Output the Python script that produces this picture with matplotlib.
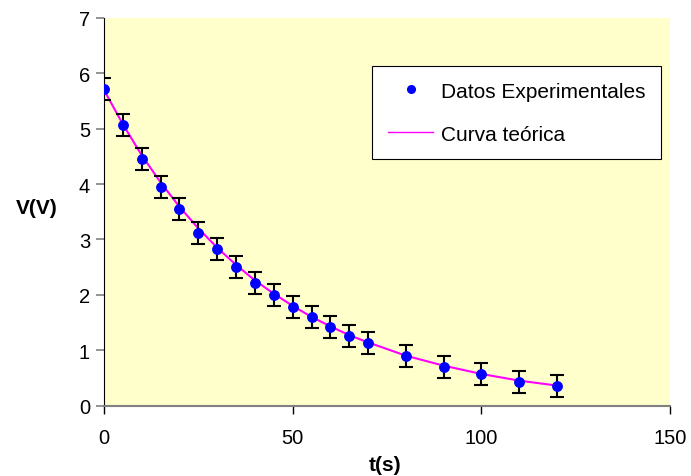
import numpy as np
import matplotlib
matplotlib.use("Agg")
import matplotlib.pyplot as plt

plt.rcParams['font.family'] = ['Liberation Sans', 'DejaVu Sans']

# measured data
t_exp = [0, 5, 10, 15, 20, 25, 30, 35, 40, 45, 50, 55, 60, 65, 70, 80, 90, 100, 110, 120]
v_exp = [5.72, 5.06, 4.45, 3.95, 3.55, 3.12, 2.82, 2.50, 2.21, 1.99, 1.78, 1.60, 1.42, 1.26,
         1.13, 0.90, 0.69, 0.57, 0.43, 0.36]
v_err = [0.2] * len(t_exp)

# theoretical curve
t_teo = [0, 5, 10, 15, 20, 25, 30, 35, 40, 45, 50, 55, 60, 65, 70, 80, 90, 100, 110, 120]
v_teo = [5.70, 5.08, 4.52, 4.03, 3.59, 3.20, 2.85, 2.54, 2.26, 2.02, 1.80, 1.60, 1.43, 1.27,
         1.14, 0.90, 0.72, 0.57, 0.45, 0.36]

fig = plt.figure(figsize=(6.91, 4.77), dpi=100)
ax = fig.add_axes([104/691, 1 - 406.5/477, 566/691, 387.5/477])
ax.set_facecolor('#FFFFCC')

ax.plot(t_teo, v_teo, color='#FF00FF', lw=1.5, zorder=2)
ax.errorbar(t_exp, v_exp, yerr=v_err, fmt='none', ecolor='black', elinewidth=1.5,
            capsize=4.7, capthick=1.5, zorder=3)
ax.plot(t_exp, v_exp, 'o', color='#0000FF', ms=6.8, zorder=4)

# legend handles
h1, = ax.plot([], [], 'o', color='#0000FF', ms=5.5)
h2, = ax.plot([], [], color='#FF00FF', lw=1)
leg = ax.legend([h1, h2], ['Datos Experimentales', 'Curva teórica'],
                loc='upper left', bbox_to_anchor=(0.4735, 0.876), fontsize=15,
                frameon=True, fancybox=False, edgecolor='black', framealpha=1,
                handlelength=2.2, handletextpad=0.35, borderpad=0.75,
                labelspacing=1.15, borderaxespad=0)
leg.get_frame().set_linewidth(0.8)

ax.set_xlim(0, 150)
ax.set_ylim(0, 7)
ax.set_xticks([0, 50, 100, 150])
ax.set_yticks(range(0, 8))

for s in ['top', 'right']:
    ax.spines[s].set_visible(False)
ax.spines['left'].set_color('black')
ax.spines['bottom'].set_color('#808080')
ax.spines['bottom'].set_linewidth(1.5)
ax.tick_params(axis='y', direction='out', length=6, color='#808080', width=1.2,
               labelsize=14.5, pad=4)
ax.tick_params(axis='x', direction='out', length=6, color='black', width=1,
               labelsize=14.5, pad=10.5)

fig.text(37/691, 1 - 208/477, 'V(V)', fontsize=15, fontweight='bold', ha='center', va='center')
fig.text(385/691, 1 - 466/477, 't(s)', fontsize=15, fontweight='bold', ha='center', va='center')

fig.savefig('out.png', dpi=100, facecolor='white')
